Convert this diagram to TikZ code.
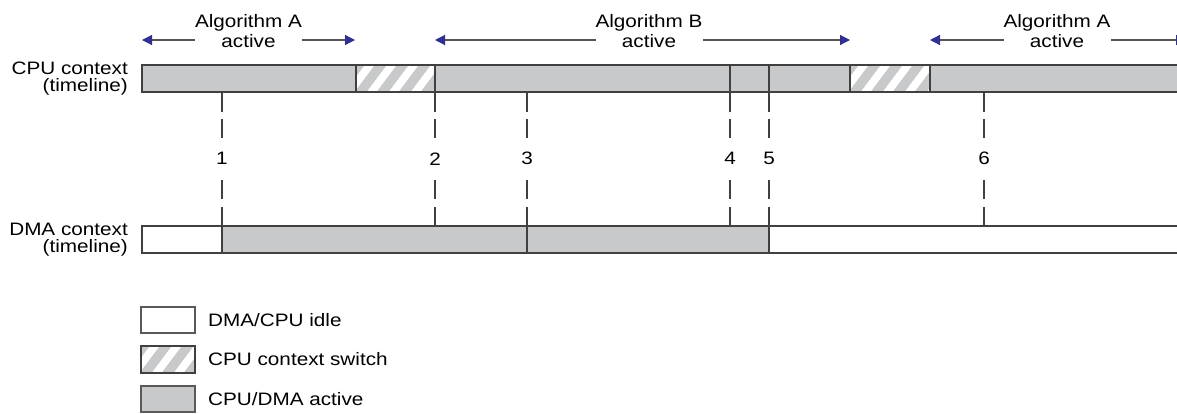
\documentclass[tikz,border=0pt]{standalone}
\usepackage{fontspec}
\setmainfont{Liberation Sans}[FakeStretch=1.15]
\usetikzlibrary{arrows.meta, positioning}

\definecolor{barra}{HTML}{C8C9CB}
\definecolor{borda}{HTML}{404040}
\definecolor{seta}{HTML}{2E3192}
\definecolor{linha}{HTML}{555555}

\tikzset{
  segmento/.style={draw=borda, line width=2.7pt, minimum height=27pt,
    inner sep=0pt, outer sep=0pt, anchor=west},
  ativo/.style={segmento, fill=barra},
  ocioso/.style={segmento, fill=white},
  troca/.style={segmento, fill=white, path picture={
      \foreach \k in {-2,...,6}
        \draw[barra, line width=9.5pt]
          ([xshift=\k*22pt, yshift=-6pt]path picture bounding box.south west)
          -- ++(30pt,40pt);}},
  caixa/.style={draw=black!65, line width=1.2pt, minimum width=54pt,
    minimum height=26pt, inner sep=0pt, outer sep=0pt},
  periodo/.style={{Triangle[length=10pt,width=10pt,color=seta]}-{Triangle[length=10pt,width=10pt,color=seta]},
    draw=linha, line width=1.2pt},
  tracejado/.style={draw=black!75, line width=1.1pt, dash pattern=on 19.5pt off 7.5pt},
}

\begin{document}
\begin{tikzpicture}[x=1pt, y=-1pt, every node/.style={font=\fontsize{18}{20}\selectfont}]
    \useasboundingbox (0,0) rectangle (1177,413);
    \clip (0,0) rectangle (1177,413);

    % Periodos dos algoritmos
    \coordinate (aL1) at (142,40);
    \coordinate (aR1) at (355,40);
    \coordinate (aL2) at (435,40);
    \coordinate (aR2) at (850,40);
    \coordinate (aL3) at (930,40);
    \coordinate (aR3) at (1186,40);
    \draw[periodo] (aL1) -- (aR1);
    \draw[periodo] (aL2) -- (aR2);
    \draw[periodo] (aL3) -- (aR3);
    \node[fill=white, align=center, inner xsep=0pt, inner ysep=1pt] (algA) at (248.5,31) {Algorithm A\\active};
    \node[fill=white, align=center, inner xsep=0pt, inner ysep=1pt] (algB) at (649,31) {Algorithm B\\active};
    \node[fill=white, align=center, inner xsep=0pt, inner ysep=1pt] (algC) at (1057,31) {Algorithm A\\active};

    % Linha do tempo da CPU
    \node[align=right, anchor=east, inner sep=2pt,
          font=\fontsize{18}{17}\selectfont] (cpu) at (130,78.5) {CPU context\\(timeline)};
    \node[ativo, minimum width=214pt] (c1) at (142,78.5) {};
    \node[troca, minimum width=79pt] (c2) at (356,78.5) {};
    \node[ativo, minimum width=295pt] (c3) at (435,78.5) {};
    \node[ativo, minimum width=39pt] (c4) at (730,78.5) {};
    \node[ativo, minimum width=81pt] (c5) at (769,78.5) {};
    \node[troca, minimum width=80pt] (c6) at (850,78.5) {};
    \node[ativo, minimum width=260pt] (c7) at (930,78.5) {};

    % Linha do tempo do DMA
    \node[align=right, anchor=east, inner sep=2pt,
          font=\fontsize{18}{17}\selectfont] (dma) at (130,239.5) {DMA context\\(timeline)};
    \node[ocioso, minimum width=80pt] (d1) at (142,239.5) {};
    \node[ativo, minimum width=305pt] (d2) at (222,239.5) {};
    \node[ativo, minimum width=242pt] (d3) at (527,239.5) {};
    \node[ocioso, minimum width=421pt] (d4) at (769,239.5) {};

    % Marcas de tempo
    \foreach \i/\x in {1/222, 2/435, 3/527, 4/730, 5/769, 6/984} {
      \coordinate (t\i) at (\x,92);
      \coordinate (b\i) at (\x,226);
      \node[minimum height=41pt, inner sep=0pt] (n\i) at (\x,158.75) {\i};
      \draw[tracejado] (t\i) -- (n\i);
      \draw[tracejado] (b\i) -- (n\i);
    }

    % Legenda
    \node[caixa, fill=white] (legIdle) at (168,320) {};
    \node[right=13pt of legIdle, inner sep=0pt] (txtIdle) {DMA/CPU idle};
    \node[caixa, troca, anchor=center] (legSwitch) at (168,359.5) {};
    \node[right=13pt of legSwitch, inner sep=0pt] (txtSwitch) {CPU context switch};
    \node[caixa, fill=barra] (legActive) at (168,399) {};
    \node[right=13pt of legActive, inner sep=0pt] (txtActive) {CPU/DMA active};
\end{tikzpicture}
\end{document}
